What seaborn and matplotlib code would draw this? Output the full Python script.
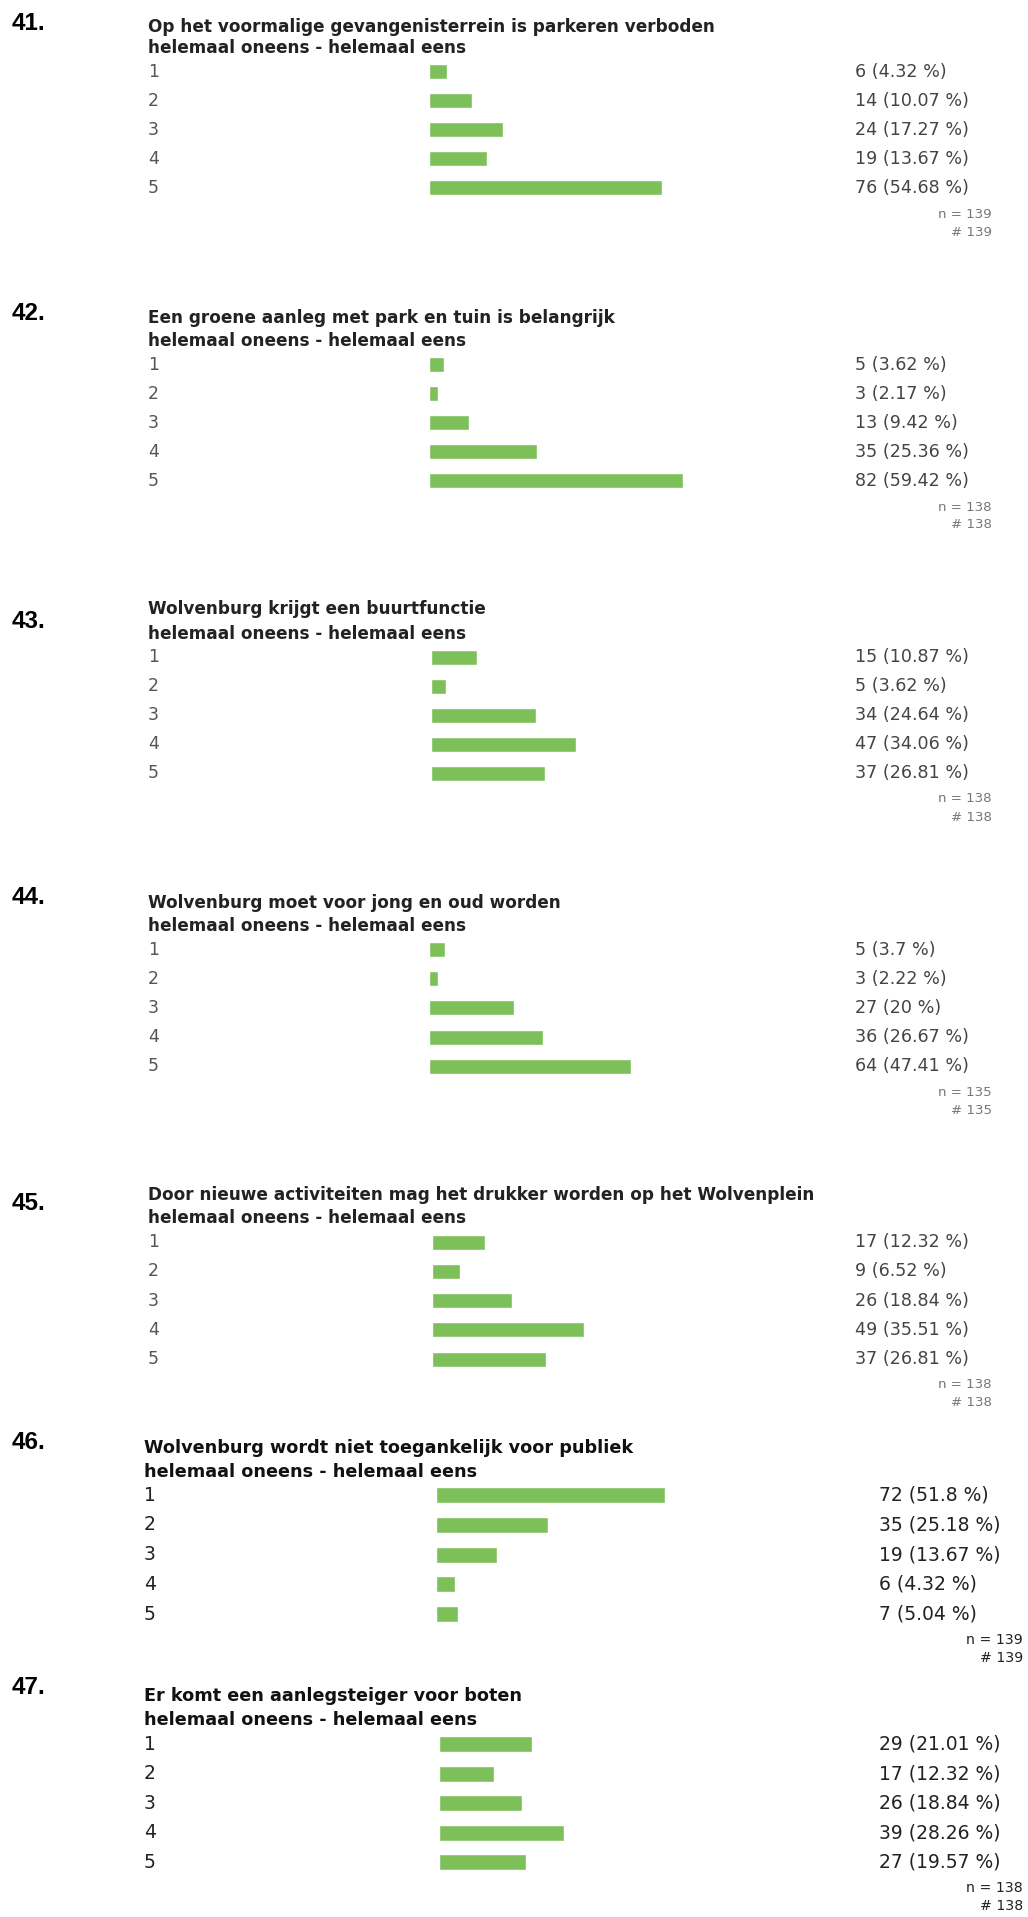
import numpy as np
import pandas as pd
import seaborn as sns
import matplotlib.pyplot as plt
from matplotlib.transforms import blended_transform_factory

# data
numbers = ['41.', '42.', '43.', '44.', '45.', '46.', '47.']
questions = [
    'Op het voormalige gevangenisterrein is parkeren verboden',
    'Een groene aanleg met park en tuin is belangrijk',
    'Wolvenburg krijgt een buurtfunctie',
    'Wolvenburg moet voor jong en oud worden',
    'Door nieuwe activiteiten mag het drukker worden op het Wolvenplein',
    'Wolvenburg wordt niet toegankelijk voor publiek',
    'Er komt een aanlegsteiger voor boten',
]
scale_text = 'helemaal oneens - helemaal eens'
categories = ['1', '2', '3', '4', '5']

counts = [
    [6, 14, 24, 19, 76],
    [5, 3, 13, 35, 82],
    [15, 5, 34, 47, 37],
    [5, 3, 27, 36, 64],
    [17, 9, 26, 49, 37],
    [72, 35, 19, 6, 7],
    [29, 17, 26, 39, 27],
]
percents = [
    [4.32, 10.07, 17.27, 13.67, 54.68],
    [3.62, 2.17, 9.42, 25.36, 59.42],
    [10.87, 3.62, 24.64, 34.06, 26.81],
    [3.7, 2.22, 20, 26.67, 47.41],
    [12.32, 6.52, 18.84, 35.51, 26.81],
    [51.8, 25.18, 13.67, 4.32, 5.04],
    [21.01, 12.32, 18.84, 28.26, 19.57],
]
n_resp = [139, 138, 138, 135, 138, 139, 138]

# layout in pixels (top-left origin)
W, H = 1028, 1917
num_y = [24, 314, 621, 897, 1203, 1442, 1687]
title_y = [27, 318, 609, 903, 1195, 1448, 1696]
sub_y = [48, 341, 634, 926, 1218, 1472, 1720]
row_first = [72, 365, 657, 950, 1242, 1495, 1744]
row_last = [188, 481, 773, 1066, 1359, 1614, 1862]
bar_x0 = [429, 429, 431, 429, 432, 436, 439]

green = '#7dc05a'

sns.set_theme(style='white')
plt.rcParams['font.family'] = ['DejaVu Sans']

fig = plt.figure(figsize=(W / 100, H / 100), dpi=100)
fig.patch.set_facecolor('white')


def fx(px):
    return px / W


def fy(py):
    return 1 - py / H


for i in range(len(questions)):
    new = i >= 5
    if new:
        txt_x, val_x, n_right = 144, 879, 1023
        ppp = 4.43          # pixels per percent
        bar_h = 16
        t_size, l_size, v_size, n_size = 12.7, 13.5, 13.5, 10.2
        t_col, l_col, v_col, n_col = '#111111', '#222222', '#222222', '#222222'
    else:
        txt_x, val_x, n_right = 148, 855, 992
        ppp = 4.27
        bar_h = 15
        t_size, l_size, v_size, n_size = 12.2, 12.4, 12.6, 9.6
        t_col, l_col, v_col, n_col = '#222222', '#555555', '#444444', '#777777'

    step = (row_last[i] - row_first[i]) / 4
    top = row_first[i] - step / 2
    ax_w = 380
    ax = fig.add_axes([fx(bar_x0[i]), fy(top + 5 * step), ax_w / W, 5 * step / H])
    df = pd.DataFrame({'antwoord': categories, 'pct': percents[i]})
    sns.barplot(data=df, x='pct', y='antwoord', orient='h', color=green,
                saturation=1, width=bar_h / step, ax=ax)
    ax.set_xlim(0, ax_w / ppp)
    ax.set_ylim(4.5, -0.5)
    ax.axis('off')

    tr = blended_transform_factory(fig.transFigure, ax.transData)
    for j, cat in enumerate(categories):
        ax.text(fx(txt_x), j, cat, transform=tr, va='center', ha='left',
                fontsize=l_size, color=l_col)
        ax.text(fx(val_x), j, f'{counts[i][j]} ({percents[i][j]:g} %)',
                transform=tr, va='center', ha='left', fontsize=v_size, color=v_col)

    fig.text(fx(12), fy(num_y[i]), numbers[i], family=['Liberation Sans'],
             fontsize=17.5, fontweight='bold', va='center', ha='left', color='black')
    fig.text(fx(txt_x), fy(title_y[i]), questions[i], fontsize=t_size,
             fontweight='bold', va='center', ha='left', color=t_col)
    fig.text(fx(txt_x), fy(sub_y[i]), scale_text, fontsize=t_size,
             fontweight='bold', va='center', ha='left', color=t_col)
    fig.text(fx(n_right), fy(row_last[i] + 26), f'n = {n_resp[i]}',
             fontsize=n_size, va='center', ha='right', color=n_col)
    fig.text(fx(n_right), fy(row_last[i] + 44), f'# {n_resp[i]}',
             fontsize=n_size, va='center', ha='right', color=n_col)

fig.savefig('out.png', dpi=100, facecolor='white')
